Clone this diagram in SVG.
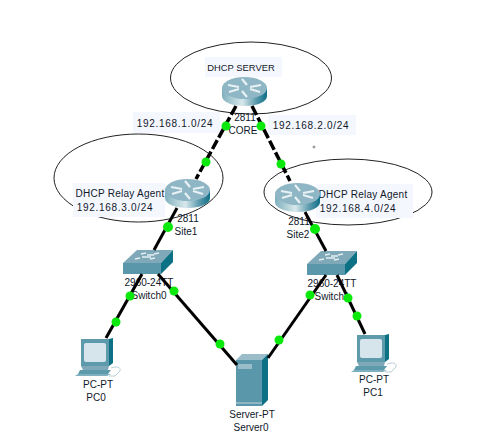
<svg xmlns="http://www.w3.org/2000/svg" width="482" height="441" viewBox="0 0 482 441">
<style>
text{font-family:"Liberation Sans",Arial,sans-serif;font-size:10px;fill:#10182a;text-anchor:middle}
.ip{letter-spacing:.7px}
.rel{letter-spacing:.25px}
.ring{fill:none;stroke:#222;stroke-width:1}
.lb{fill:#f5f7fe}
.c{stroke:#000;stroke-width:3;fill:none}
.d{stroke-width:3.500;stroke-dasharray:10 3}
.g{fill:#0be80b}
</style>
<defs>
<linearGradient id="rg" x1="0" x2="1" y1="0" y2="0">
<stop offset="0" stop-color="#7fb0bd"/><stop offset=".45" stop-color="#d8e8ec"/><stop offset=".75" stop-color="#5f9cae"/><stop offset="1" stop-color="#0d6f86"/>
</linearGradient>
<g id="router">
<path d="M0 11V19C0 25 10 29 22.500 29S45 25 45 19V11Z" fill="url(#rg)"/>
<ellipse cx="22.500" cy="11" rx="22.500" ry="11" fill="#8fb6c4"/>
<path d="M6 8L17 10M7 15L17 12M39 8L28 10M38 15L28 12M20 2L25 8M25 20L20 14" stroke="#e8f1f4" stroke-width="2.200" fill="none"/>
</g>
<g id="switch">
<path d="M0 13L14 0H50L38 13Z" fill="#7fa9b8"/>
<path d="M0 13H38V24H0Z" fill="#5b97aa"/>
<path d="M38 13L50 0V12L38 24Z" fill="#0d7186"/>
<path d="M12 9L17 8M27 9L32 8M18 4L23 3M31 4L36 3M19 7H28M24 5H31" stroke="#e4eef1" stroke-width="1.500"/>
</g>
<g id="pc">
<path d="M6 0H34V27H6Z" fill="#5d9aac"/>
<path d="M34 0L38 -1V24L34 27Z" fill="#0d7186"/>
<rect x="9" y="4" width="22" height="19" rx="2" fill="#d6e5ec"/>
<path d="M6 27H34L33 31H8Z" fill="#7fa9b8"/>
<path d="M5 31H36L33 35H3Z" fill="#5d9aac"/>
<path d="M3 35H36L32 37H0Z" fill="#7fb0c0"/>
<path d="M36 29C42 27 46 28 45 32L40 37H34" fill="none" stroke="#b8cfd8"/>
</g>
<g id="server">
<path d="M0 6L6 0H32L26 6Z" fill="#9abdc9"/>
<path d="M26 6L32 0V46L26 52Z" fill="#0d7186"/>
<rect y="6" width="26" height="46" fill="#5b97aa"/>
<rect x="2" y="10" width="14" height="5" fill="#9abdc9"/>
<rect y="48" width="26" height="2" fill="#8fb6c4"/>
</g>
</defs>

<rect width="482" height="441" fill="#fff"/>
<ellipse class="ring" cx="251" cy="78" rx="80.500" ry="36"/>
<ellipse class="ring" cx="138.500" cy="178" rx="84.500" ry="44"/>
<ellipse class="ring" cx="348" cy="192" rx="84" ry="33"/>
<circle cx="314" cy="147" r="1" fill="none" stroke="#555" stroke-width=".7"/>

<g id="label-dhcp-server"><rect class="lb" x="205" y="57" width="77" height="20"/><text x="241" y="71" style="font-size:9.400px">DHCP SERVER</text></g>
<g id="label-net1"><rect class="lb" x="133" y="112" width="87" height="21"/><text class="ip" x="175" y="127">192.168.1.0/24</text></g>
<g id="label-net2"><rect class="lb" x="268" y="115" width="88" height="20"/><text class="ip" x="311" y="129">192.168.2.0/24</text></g>
<g id="label-relay1"><rect class="lb" x="73" y="183" width="92" height="34"/><text class="rel" x="120" y="197">DHCP Relay Agent</text><text class="ip" x="115" y="211">192.168.3.0/24</text></g>
<g id="label-relay2"><rect class="lb" x="316" y="184" width="97" height="34"/><text class="rel" x="363" y="198">DHCP Relay Agent</text><text class="ip" x="358" y="212">192.168.4.0/24</text></g>

<g id="core"><use href="#router" x="222" y="77"/><text x="245" y="121">2811</text><text x="243" y="134">CORE</text></g>
<g id="site1"><use href="#router" x="165" y="179"/><text x="188" y="222">2811</text><text x="186" y="235">Site1</text></g>
<g id="site2"><use href="#router" x="275" y="183"/><text x="299" y="225">2811</text><text x="298" y="238">Site2</text></g>
<g id="switch0"><use href="#switch" x="123" y="250"/><text x="149" y="286">2960-24TT</text><text x="149" y="299">Switch0</text></g>
<g id="switch1"><use href="#switch" x="307" y="251"/><text x="332" y="287">2960-24TT</text><text x="332" y="300">Switch1</text></g>
<g id="pc0"><use href="#pc" x="75" y="339"/><text x="98" y="388">PC-PT</text><text x="96" y="401">PC0</text></g>
<g id="pc1"><use href="#pc" x="351" y="335"/><text x="374" y="383">PC-PT</text><text x="373" y="396">PC1</text></g>
<g id="server0"><use href="#server" x="236" y="354"/><text x="252" y="418">Server-PT</text><text x="251" y="431">Server0</text></g>

<g id="connectors">
<path class="c d" d="M236 106L196 179"/>
<path class="c d" d="M252 106L290 181"/>
<path class="c" d="M177 208L154 250"/>
<path class="c" d="M305 212L326 251"/>
<path class="c" d="M142 274L106 338"/>
<path class="c" d="M158 274L237 365"/>
<path class="c" d="M268 358L326 275"/>
<path class="c" d="M337 275L365 334"/>
<circle class="g" cx="226" cy="126" r="4.500"/>
<circle class="g" cx="261" cy="126" r="4.500"/>
<circle class="g" cx="206" cy="162" r="4.500"/>
<circle class="g" cx="281" cy="164" r="4.500"/>
<circle class="g" cx="168" cy="227" r="5"/>
<circle class="g" cx="315" cy="229" r="5"/>
<circle class="g" cx="130" cy="296" r="4.500"/>
<circle class="g" cx="116" cy="322" r="4.500"/>
<circle class="g" cx="174" cy="291" r="4.500"/>
<circle class="g" cx="220" cy="344" r="4.500"/>
<circle class="g" cx="279" cy="340" r="4.500"/>
<circle class="g" cx="310" cy="295" r="4.500"/>
<circle class="g" cx="348" cy="298" r="4.500"/>
<circle class="g" cx="357" cy="316" r="4.500"/>
</g>
</svg>
